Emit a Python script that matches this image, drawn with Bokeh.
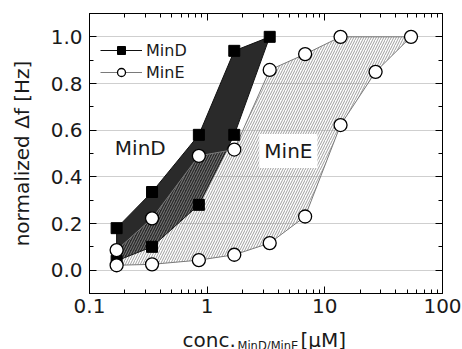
from bokeh.plotting import figure
from bokeh.embed import file_html
from bokeh.resources import INLINE
from bokeh.layouts import column
from bokeh.core.properties import value
from bokeh.models import (FixedTicker, PrintfTickFormatter, LogAxis, LinearAxis,
                          Label, Legend, LegendItem, Range1d)

# ---- data ----
mind_up_conc = [0.17, 0.34, 0.85, 1.7, 3.4]
mind_up_val = [0.18, 0.335, 0.58, 0.94, 1.00]
mind_lo_conc = [0.17, 0.34, 0.85, 1.7]
mind_lo_val = [0.04, 0.10, 0.28, 0.58]

mine_up_conc = [0.17, 0.34, 0.85, 1.7, 3.4, 6.8, 13.6, 54]
mine_up_val = [0.086, 0.222, 0.49, 0.517, 0.858, 0.926, 1.00, 1.00]
mine_lo_conc = [0.17, 0.34, 0.85, 1.7, 3.4, 6.8, 13.6, 27]
mine_lo_val = [0.021, 0.025, 0.043, 0.066, 0.116, 0.23, 0.622, 0.85]

x_ticks = [0.1, 1, 10, 100]
x_tick_labels = ["0.1", "1", "10", "100"]
x_minor = [0.2, 0.3, 0.4, 0.5, 0.6, 0.7, 0.8, 0.9, 2, 3, 4, 5, 6, 7, 8, 9,
           20, 30, 40, 50, 60, 70, 80, 90]
y_ticks = [0.0, 0.2, 0.4, 0.6, 0.8, 1.0]
y_minor = [0.1, 0.3, 0.5, 0.7, 0.9]

x_label_parts = ["conc.", "MinD/MinE", "[\u03bcM]"]

FONT = "DejaVu Sans"
TXT = "#1a1a1a"

p = figure(width=462, height=325, x_axis_type="log",
           x_range=Range1d(0.1, 100), y_range=Range1d(-0.1, 1.1),
           output_backend="svg", toolbar_location=None,
           min_border_left=89, min_border_right=20, min_border_top=13,
           min_border_bottom=32)
p.background_fill_color = "white"
p.border_fill_color = "white"
p.outline_line_color = "black"
p.outline_line_width = 1

# polygons
mind_poly_x = mind_up_conc + mind_lo_conc[::-1]
mind_poly_y = mind_up_val + mind_lo_val[::-1]
mine_poly_x = mine_up_conc + mine_lo_conc[::-1]
mine_poly_y = mine_up_val + mine_lo_val[::-1]

p.patch(mind_poly_x, mind_poly_y, fill_color="#2a2a2a", line_color=None)
p.patch(mine_poly_x, mine_poly_y, fill_alpha=0, line_color=None,
        hatch_pattern="/", hatch_color="#8c8c8c", hatch_scale=5,
        hatch_weight=1, hatch_alpha=0.85)

mind_line = p.line(mind_poly_x + mind_poly_x[:1], mind_poly_y + mind_poly_y[:1],
                   line_color="#111111", line_width=1)
mine_line = p.line(mine_poly_x + mine_poly_x[:1], mine_poly_y + mine_poly_y[:1],
                   line_color="#7a7a7a", line_width=1)

mind_sq = p.scatter(mind_up_conc + mind_lo_conc, mind_up_val + mind_lo_val,
                    marker="square", size=11, fill_color="black", line_color="black")
mine_ci = p.scatter(mine_up_conc + mine_lo_conc, mine_up_val + mine_lo_val,
                    marker="circle", size=13, fill_color="white", line_color="black",
                    line_width=1.3)

# axes
p.xaxis.ticker = FixedTicker(ticks=x_ticks, minor_ticks=x_minor)
p.xaxis.major_label_overrides = {t: l for t, l in zip(x_ticks, x_tick_labels)}
p.yaxis.ticker = FixedTicker(ticks=y_ticks, minor_ticks=y_minor)
p.yaxis.formatter = PrintfTickFormatter(format="%.1f")

for ax in (p.xaxis[0], p.yaxis[0]):
    ax.major_tick_in = 7
    ax.major_tick_out = 0
    ax.minor_tick_in = 4
    ax.minor_tick_out = 0
    ax.axis_line_color = "black"
    ax.major_tick_line_color = "black"
    ax.minor_tick_line_color = "black"
    ax.major_label_text_font = FONT
    ax.major_label_text_font_size = "20px"
    ax.major_label_text_color = TXT

p.xaxis.major_label_standoff = 5
p.yaxis.major_label_standoff = 7
p.yaxis.axis_label = "normalized \u0394f [Hz]"
p.yaxis.axis_label_text_font = FONT
p.yaxis.axis_label_text_font_size = "20px"
p.yaxis.axis_label_text_font_style = "normal"
p.yaxis.axis_label_text_color = TXT
p.yaxis.axis_label_standoff = 14

top_ax = LogAxis(ticker=FixedTicker(ticks=x_ticks, minor_ticks=x_minor))
right_ax = LinearAxis(ticker=FixedTicker(ticks=y_ticks, minor_ticks=y_minor))
for ax in (top_ax, right_ax):
    ax.major_tick_in = 7
    ax.major_tick_out = 0
    ax.minor_tick_in = 4
    ax.minor_tick_out = 0
    ax.major_label_text_font_size = "1px"
    ax.major_label_text_alpha = 0
    ax.major_label_standoff = 0
    ax.axis_line_color = "black"
p.add_layout(top_ax, "above")
p.add_layout(right_ax, "right")

p.xgrid.visible = False
p.ygrid.ticker = FixedTicker(ticks=y_ticks)
p.ygrid.grid_line_color = "#cfcfcf"
p.ygrid.grid_line_width = 1

# legend
legend = Legend(items=[LegendItem(label="MinD", renderers=[mind_line, mind_sq]),
                       LegendItem(label="MinE", renderers=[mine_line, mine_ci])],
                location=(11, 211), glyph_width=42, glyph_height=20, spacing=2,
                label_standoff=4, label_text_font=FONT, label_text_font_size="16px",
                label_text_color=TXT, border_line_color=None,
                background_fill_alpha=0, padding=0, margin=0)
p.add_layout(legend, "center")

# region labels
p.add_layout(Label(x=0.27, y=0.524, text="MinD", text_font=FONT, text_font_size="20px",
                   text_align="center", text_baseline="middle", text_color=TXT))
p.add_layout(Label(x=4.9, y=0.511, text="MinE", text_font=FONT, text_font_size="20px",
                   text_align="center", text_baseline="middle", text_color=TXT,
                   background_fill_color="white", padding=5))

# x-axis label strip (window pixel coordinates, y downward)
p2 = figure(width=462, height=24, x_range=Range1d(89, 442), y_range=Range1d(24, 0),
            output_backend="svg", toolbar_location=None, min_border=0,
            min_border_left=89, min_border_right=20,
            x_axis_location=None, y_axis_location=None)
p2.outline_line_color = None
p2.xgrid.visible = False
p2.ygrid.visible = False
p2.border_fill_color = "white"
p2.text(x=[182], y=[14], text=[x_label_parts[0]], text_font=value(FONT),
        text_font_size="20px", text_baseline="alphabetic", text_color=TXT)
p2.text(x=[237], y=[20], text=[x_label_parts[1]], text_font=value(FONT),
        text_font_size="11.5px", text_baseline="alphabetic", text_color=TXT)
p2.text(x=[300], y=[14], text=[x_label_parts[2]], text_font=value(FONT),
        text_font_size="20px", text_baseline="alphabetic", text_color=TXT)

layout = column(p, p2, spacing=0)
open("out.html", "w").write(file_html(layout, INLINE))
